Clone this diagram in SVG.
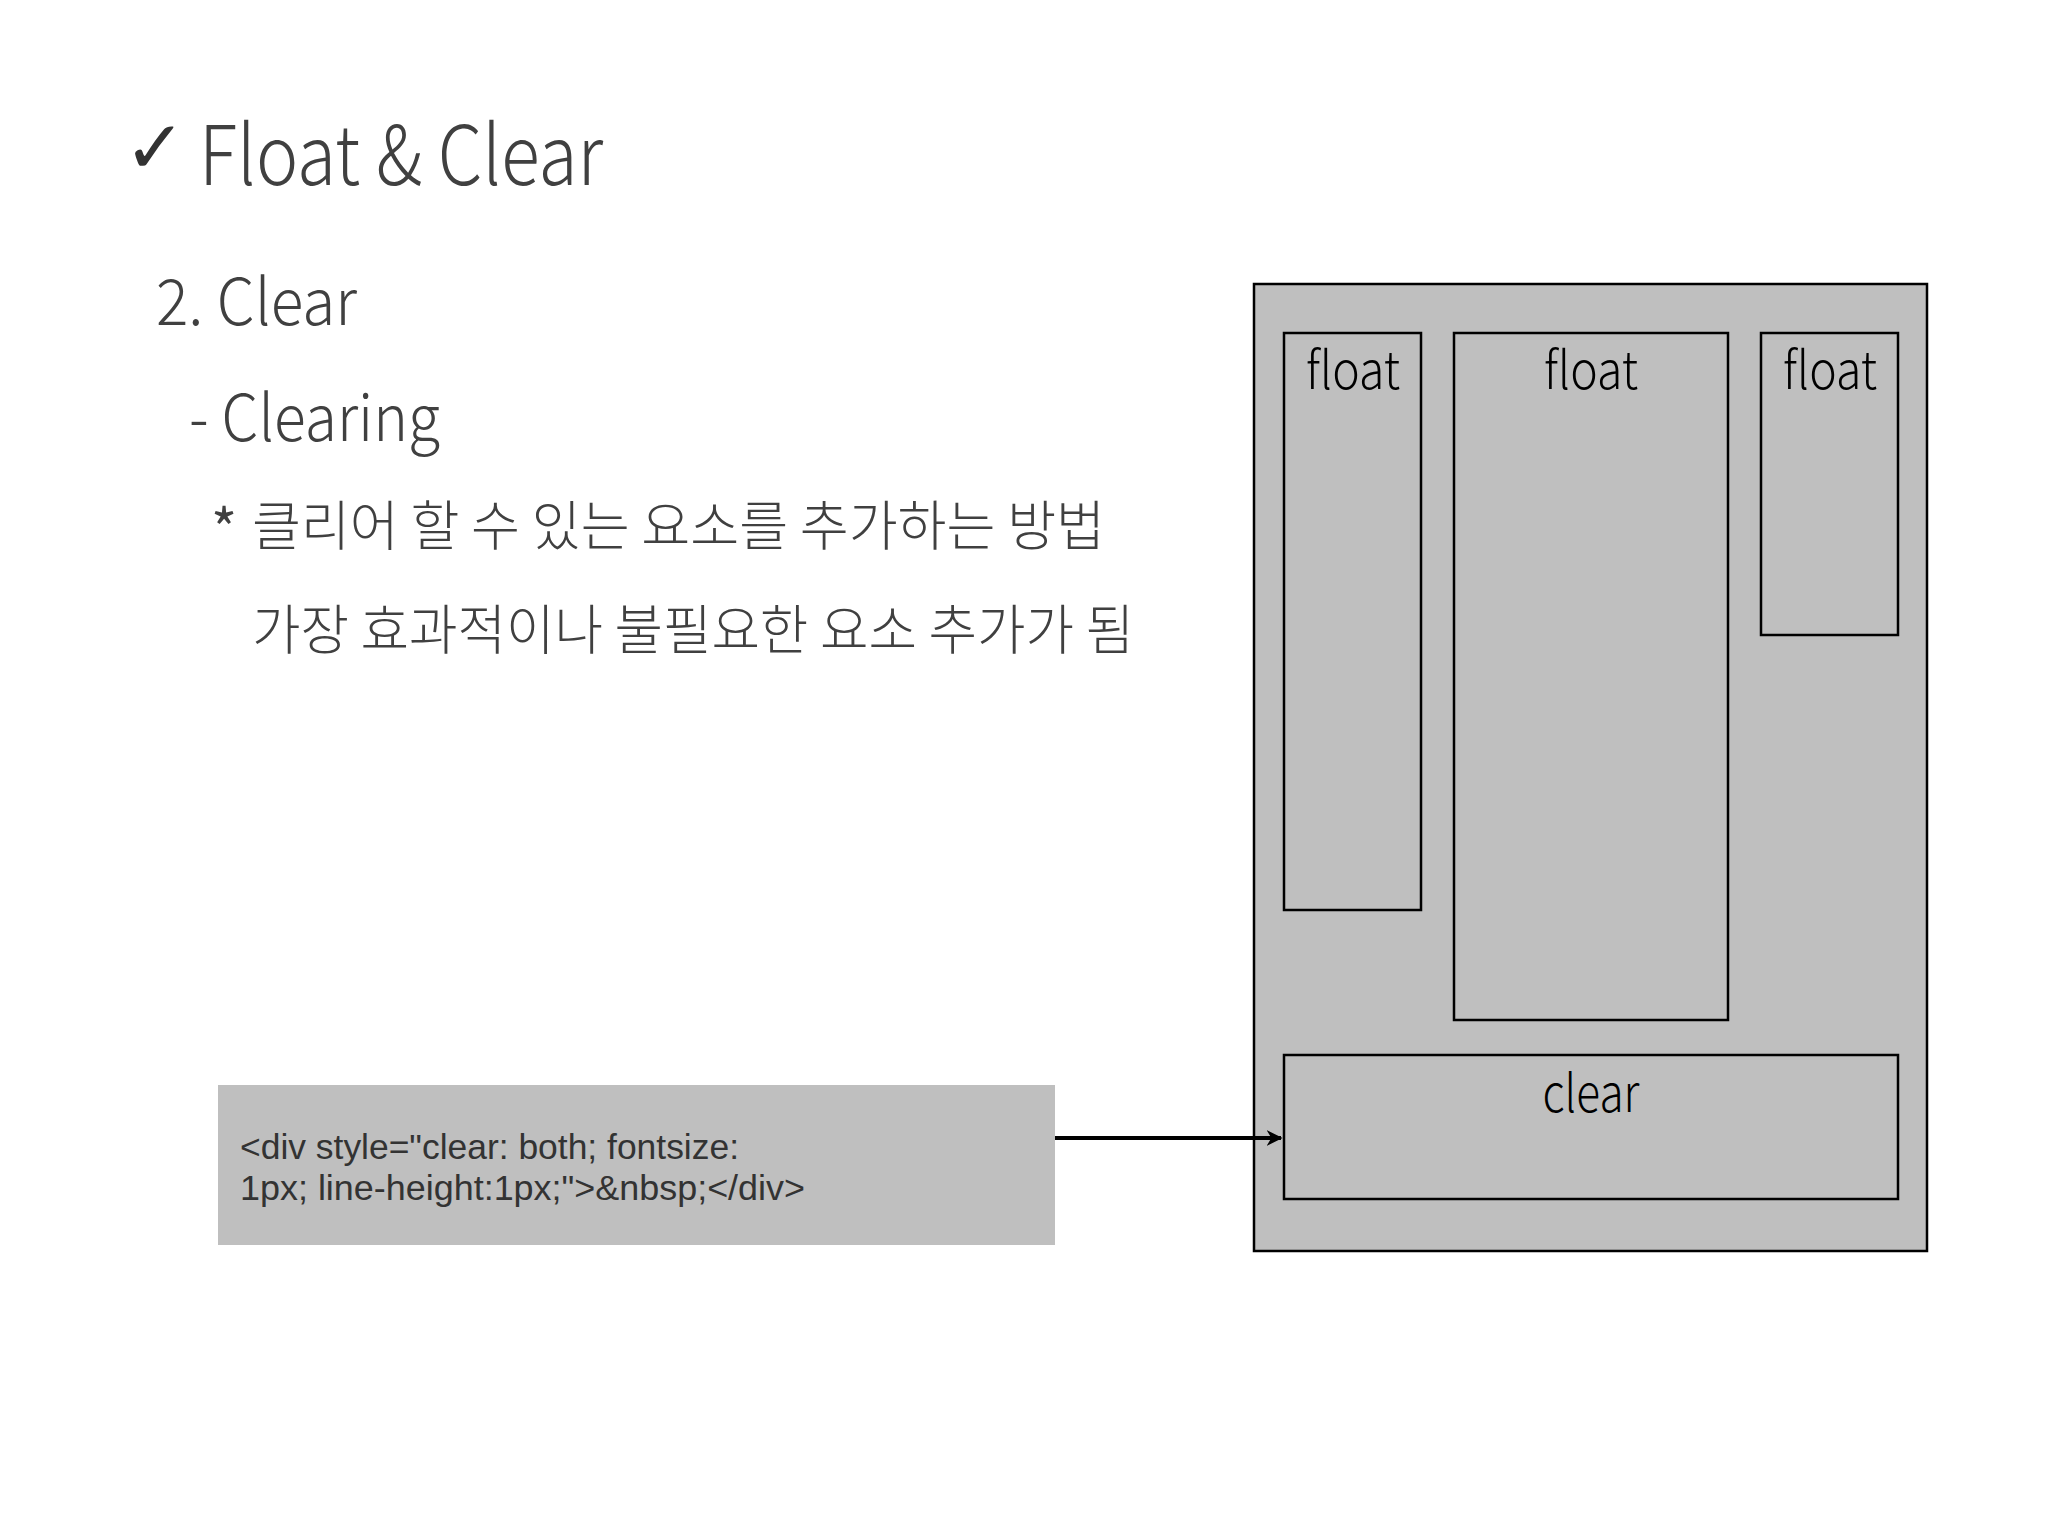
<svg xmlns="http://www.w3.org/2000/svg" width="2048" height="1536" viewBox="0 0 2048 1536">
<defs>
<style>
.t{font-family:"Noto Sans CJK KR","Noto Sans",sans-serif;fill:#404040;font-weight:300}
.box{fill:#bfbfbf;stroke:#000;stroke-width:2.5}
.lbl{font-family:"Noto Sans CJK KR","Noto Sans",sans-serif;font-size:52px;fill:#000;text-anchor:middle;font-weight:300}
.code{font-family:"Liberation Sans",Arial,sans-serif;font-size:35px;fill:#333}
</style>
<marker id="arr" viewBox="0 0 10 10" refX="9" refY="5" markerWidth="4" markerHeight="4" orient="auto" markerUnits="strokeWidth">
<path d="M0,0 L10,5 L0,10 L3,5 Z" fill="#000"/>
</marker>
</defs>
<rect width="2048" height="1536" fill="#fff"/>
<g id="title">
<text x="124" y="173" font-family="DejaVu Sans,sans-serif" font-size="74" font-weight="bold" fill="#333">✓</text>
<text class="t" x="199" y="185" font-size="82" textLength="404" lengthAdjust="spacingAndGlyphs">Float &amp; Clear</text>
</g>
<g id="texts">
<text class="t" x="156" y="325" font-size="64" textLength="201" lengthAdjust="spacingAndGlyphs">2. Clear</text>
<text class="t" x="189" y="441" font-size="64" textLength="251" lengthAdjust="spacingAndGlyphs">- Clearing</text>
<text x="211" y="550" font-family="Noto Sans CJK KR,sans-serif" font-size="56" fill="#404040">*</text>
<text class="t" x="252" y="546" font-size="54" textLength="853" lengthAdjust="spacingAndGlyphs">클리어 할 수 있는 요소를 추가하는 방법</text>
<text class="t" x="252" y="650" font-size="54" textLength="882" lengthAdjust="spacingAndGlyphs">가장 효과적이나 불필요한 요소 추가가 됨</text>
</g>
<g id="container">
<rect class="box" x="1254" y="284" width="673" height="967"/>
</g>
<g id="float1">
<rect class="box" x="1284" y="333" width="137" height="577"/>
<text class="lbl" x="1353" y="389" textLength="94" lengthAdjust="spacingAndGlyphs">float</text>
</g>
<g id="float2">
<rect class="box" x="1454" y="333" width="274" height="687"/>
<text class="lbl" x="1591" y="389" textLength="94" lengthAdjust="spacingAndGlyphs">float</text>
</g>
<g id="float3">
<rect class="box" x="1761" y="333" width="137" height="302"/>
<text class="lbl" x="1830" y="389" textLength="94" lengthAdjust="spacingAndGlyphs">float</text>
</g>
<g id="clear">
<rect class="box" x="1284" y="1055" width="614" height="144"/>
<text class="lbl" x="1591" y="1112" textLength="97" lengthAdjust="spacingAndGlyphs">clear</text>
</g>
<g id="code">
<rect x="218" y="1085" width="837" height="160" fill="#bfbfbf"/>
<text class="code" x="240" y="1159" textLength="499" lengthAdjust="spacingAndGlyphs">&lt;div style="clear: both; fontsize:</text>
<text class="code" x="240" y="1200" textLength="565" lengthAdjust="spacingAndGlyphs">1px; line-height:1px;"&gt;&amp;nbsp;&lt;/div&gt;</text>
</g>
<g id="connectors">
<line x1="1055" y1="1138" x2="1281" y2="1138" stroke="#000" stroke-width="4" marker-end="url(#arr)"/>
</g>
</svg>
